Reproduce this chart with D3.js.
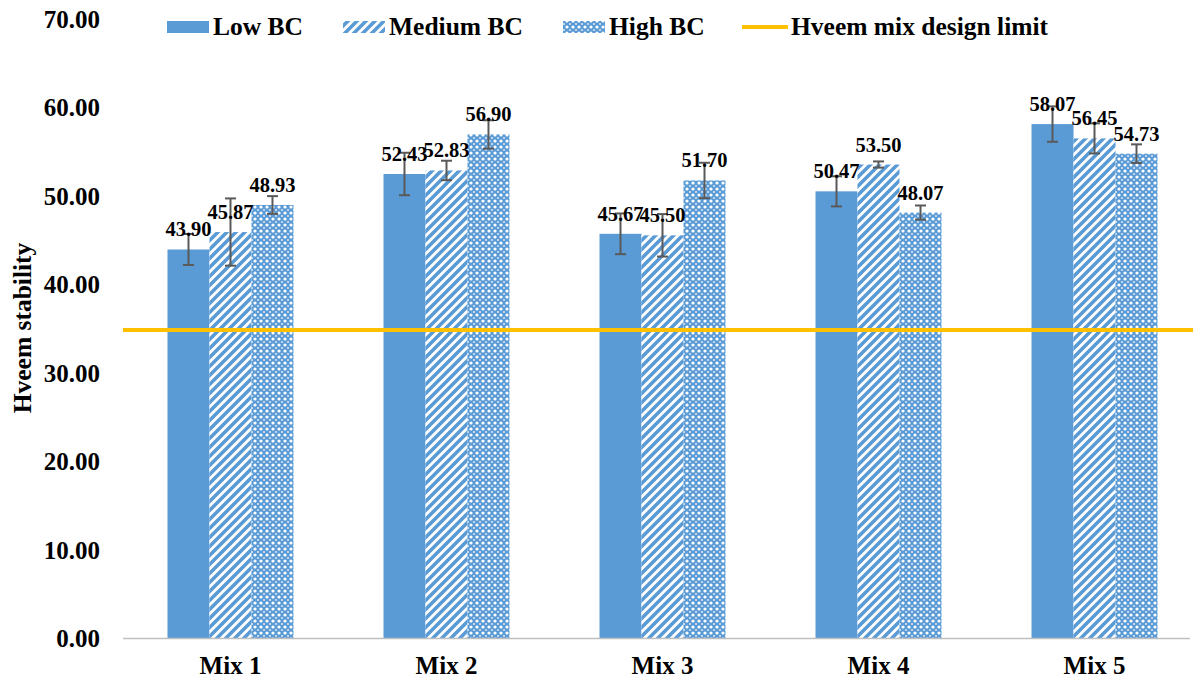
<!DOCTYPE html>
<html><head><meta charset="utf-8">
<script src="https://cdn.jsdelivr.net/npm/d3@7/dist/d3.min.js"></script>
<style>body{margin:0;background:#fff}svg{display:block}text{font-family:"Liberation Serif","Times New Roman",serif;font-weight:bold;fill:#000}</style>
</head><body><svg id="c" width="1193" height="681"></svg>
<script>
const categories = ["Mix 1","Mix 2","Mix 3","Mix 4","Mix 5"];
const series = ["Low BC","Medium BC","High BC"];
const lowBC    = [43.90, 52.43, 45.67, 50.47, 58.07];
const mediumBC = [45.87, 52.83, 45.50, 53.50, 56.45];
const highBC   = [48.93, 56.90, 51.70, 48.07, 54.73];
const lowErr    = [1.75, 2.4, 2.3, 1.7, 2.0];
const mediumErr = [3.8, 1.1, 2.4, 0.35, 1.7];
const highErr   = [1.0, 1.6, 2.0, 0.8, 1.05];
const limitValue = 34.8;
const limitLabel = "Hveem mix design limit";
const yTicks = [0,10,20,30,40,50,60,70];
const yTitle = "Hveem stability";

const values = [lowBC, mediumBC, highBC];
const errs = [lowErr, mediumErr, highErr];
const blue = "#5B9BD5";
const svg = d3.select("#c");
const defs = svg.append("defs");
// diagonal stripes
const p1 = defs.append("pattern").attr("id","stripe").attr("patternUnits","userSpaceOnUse")
  .attr("width",9).attr("height",9);
p1.append("rect").attr("width",9).attr("height",9).attr("fill","#fff");
p1.append("path").attr("d","M-2,2 L2,-2 M0,9 L9,0 M7,11 L11,7").attr("stroke",blue).attr("stroke-width",3.6);
// dotted lattice
const p2 = defs.append("pattern").attr("id","lattice").attr("patternUnits","userSpaceOnUse")
  .attr("width",6).attr("height",6);
p2.append("rect").attr("width",6).attr("height",6).attr("fill",blue);
p2.append("circle").attr("cx",3).attr("cy",3).attr("r",1.6).attr("fill","#fff");
p2.append("circle").attr("cx",0).attr("cy",0).attr("r",1.1).attr("fill","#d6e6f5");
p2.append("circle").attr("cx",6).attr("cy",0).attr("r",1.1).attr("fill","#d6e6f5");
p2.append("circle").attr("cx",0).attr("cy",6).attr("r",1.1).attr("fill","#d6e6f5");
p2.append("circle").attr("cx",6).attr("cy",6).attr("r",1.1).attr("fill","#d6e6f5");
const fills = [blue, "url(#stripe)", "url(#lattice)"];

const y = d3.scaleLinear().domain([0,70]).range([638,18.5]);
const x0 = d3.scaleBand().domain(categories).range([122.5,1202.5]).paddingInner(0.4167).paddingOuter(0.2083);
const x1 = d3.scaleBand().domain(series).range([0,x0.bandwidth()]);

// y axis tick labels
const yAxis = d3.axisLeft(y).tickValues(yTicks).tickFormat(d3.format(".2f")).tickSize(0).tickPadding(0);
const ya = svg.append("g").attr("transform","translate(100,0)").call(yAxis);
ya.select(".domain").remove();
ya.selectAll("text").style("font-size","25px").attr("dy","0.34em");

// bars
categories.forEach((c,i)=>{
  series.forEach((s,j)=>{
    const v = values[j][i];
    svg.append("rect").attr("x",x0(c)+x1(s)).attr("y",y(v)).attr("width",x1.bandwidth())
      .attr("height",y(0)-y(v)).attr("fill",fills[j]);
  });
});
// baseline
svg.append("line").attr("x1",123).attr("x2",1190).attr("y1",y(0)+0.5).attr("y2",y(0)+0.5)
  .attr("stroke","#bfbfbf").attr("stroke-width",1.5);
// limit line
svg.append("line").attr("x1",123).attr("x2",1193).attr("y1",y(limitValue)).attr("y2",y(limitValue))
  .attr("stroke","#FFC000").attr("stroke-width",4);
// error bars & labels
categories.forEach((c,i)=>{
  series.forEach((s,j)=>{
    const v = values[j][i], e = errs[j][i];
    const cx = x0(c)+x1(s)+x1.bandwidth()/2;
    const g = svg.append("g").attr("stroke","#595959").attr("stroke-width",2);
    g.append("line").attr("x1",cx).attr("x2",cx).attr("y1",y(v+e)).attr("y2",y(v-e));
    g.append("line").attr("x1",cx-5.5).attr("x2",cx+5.5).attr("y1",y(v+e)).attr("y2",y(v+e));
    g.append("line").attr("x1",cx-5.5).attr("x2",cx+5.5).attr("y1",y(v-e)).attr("y2",y(v-e));
  });
});
categories.forEach((c,i)=>{
  series.forEach((s,j)=>{
    const v = values[j][i];
    const cx = x0(c)+x1(s)+x1.bandwidth()/2;
    svg.append("text").attr("x",cx).attr("y",y(v)-13).attr("text-anchor","middle")
      .style("font-size","20.5px").text(d3.format(".2f")(v));
  });
});
// x axis labels
const xAxis = d3.axisBottom(x0).tickSize(0).tickPadding(0);
const xa = svg.append("g").attr("transform","translate(0,650)").call(xAxis);
xa.select(".domain").remove();
xa.selectAll("text").style("font-size","25px").attr("dy","0.95em");

// y title
svg.append("text").attr("transform","translate(31,328) rotate(-90)").attr("text-anchor","middle")
  .style("font-size","25.5px").text(yTitle);

// legend
const leg = [{x:167,t:series[0]},{x:343,t:series[1]},{x:563,t:series[2]}];
leg.forEach((l,j)=>{
  svg.append("rect").attr("x",l.x).attr("y",21).attr("width",42).attr("height",12).attr("fill",fills[j]);
  svg.append("text").attr("x",l.x+46).attr("y",35).style("font-size","25.5px").text(l.t);
});
svg.append("line").attr("x1",742).attr("x2",788).attr("y1",27).attr("y2",27).attr("stroke","#FFC000").attr("stroke-width",4);
svg.append("text").attr("x",791).attr("y",35).style("font-size","25.5px").text(limitLabel);
</script></body></html>
